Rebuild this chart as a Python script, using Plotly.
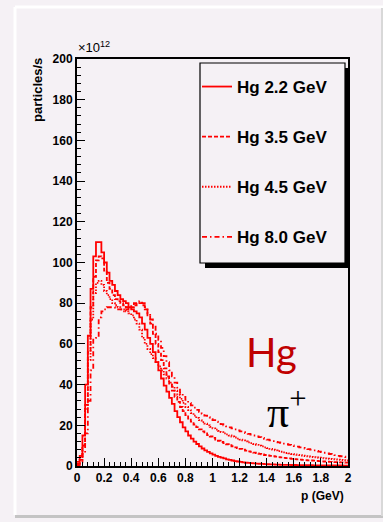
import plotly.graph_objects as go

# ---------------- data (bin width 0.02 GeV, 0..2 GeV) ----------------
bin_width = 0.02
n_bins = 100
p_edges = [round(i * bin_width, 2) for i in range(n_bins + 1)]

hg_22 = [2, 5, 15, 40, 64, 87, 103, 110, 110, 105,
         100, 95, 91, 89, 86, 84, 82, 81, 80, 78,
         77, 76, 75, 73, 70, 67, 63, 60, 56, 51,
         47, 43, 39.5, 36.5, 33.5, 30.5, 27, 24, 21.5, 19,
         17, 15, 13.5, 12, 10.8, 9.6, 8.6, 7.7, 6.9, 6.2,
         5.6, 5.0, 4.5, 4.1, 3.7, 3.3, 3.0, 2.7, 2.4, 2.2,
         2.0, 1.8, 1.6, 1.5, 1.4, 1.3, 1.2, 1.1, 1.0, 0.9,
         0.85, 0.8, 0.75, 0.7, 0.65, 0.6, 0.58, 0.55, 0.52, 0.5,
         0.48, 0.46, 0.44, 0.42, 0.4, 0.38, 0.36, 0.35, 0.34, 0.32,
         0.31, 0.3, 0.29, 0.28, 0.27, 0.26, 0.25, 0.24, 0.23, 0.22]

hg_35 = [1, 3, 10, 30, 56, 78, 93, 101, 103, 102,
         96, 90, 87, 84, 82, 81, 80, 79, 78, 78,
         78, 79, 80, 80, 79, 77, 74, 70, 65, 60,
         56, 52, 48, 44, 40, 37, 34, 31.5, 29, 27,
         25, 23.3, 21.8, 20.4, 19.1, 18, 17, 16, 15.2, 14.5,
         13.8, 13, 12.4, 11.8, 11.2, 10.7, 10.2, 9.7, 9.2, 8.8,
         8.4, 8.0, 7.6, 7.2, 6.9, 6.6, 6.3, 6.0, 5.7, 5.4,
         5.2, 5.0, 4.8, 4.6, 4.4, 4.2, 4.0, 3.85, 3.7, 3.55,
         3.4, 3.25, 3.1, 3.0, 2.9, 2.8, 2.7, 2.6, 2.5, 2.4,
         2.3, 2.2, 2.1, 2.0, 1.95, 1.9, 1.85, 1.8, 1.75, 1.7]

hg_45 = [1, 3, 10, 28, 52, 72, 85, 90, 91, 89,
         86, 84, 82, 80, 79, 78, 77, 77, 76, 75,
         74, 72, 70, 67, 63, 60, 57.5, 55, 53, 51,
         49, 47, 45, 43, 41, 39, 37, 35, 33, 31,
         29, 27.5, 26, 24.8, 23.6, 22.5, 21.6, 20.8, 20, 19.2,
         18.5, 17.9, 17.3, 16.6, 16, 15.5, 15, 14.5, 14, 13.5,
         13, 12.6, 12.1, 11.6, 11.2, 10.8, 10.4, 10, 9.6, 9.2,
         8.8, 8.4, 8.0, 7.7, 7.3, 7.0, 6.7, 6.4, 6.2, 5.9,
         5.7, 5.5, 5.3, 5.1, 4.9, 4.7, 4.5, 4.35, 4.2, 4.05,
         3.9, 3.75, 3.6, 3.5, 3.4, 3.3, 3.15, 3.0, 2.85, 2.7]

hg_80 = [0.5, 2, 6, 16, 32, 47, 63, 64, 73, 76,
         77, 78, 78, 78, 77, 77, 77, 76, 77, 78,
         79, 80, 80, 81, 80, 78, 75, 72, 69, 65,
         62, 58, 54, 51, 47, 44, 41, 38.5, 36, 34,
         32.5, 31, 29.8, 28.7, 27.6, 26.6, 25.7, 24.8, 24, 23.2,
         22.5, 21.8, 21.2, 20.6, 20, 19.5, 19, 18.5, 18, 17.5,
         17, 16.6, 16.2, 15.8, 15.4, 15, 14.6, 14.2, 13.8, 13.4,
         13, 12.6, 12.2, 11.9, 11.6, 11.3, 11, 10.7, 10.4, 10.1,
         9.8, 9.5, 9.2, 8.9, 8.6, 8.3, 8.0, 7.7, 7.4, 7.1,
         6.8, 6.5, 6.2, 5.9, 5.6, 5.3, 5.0, 4.8, 4.6, 4.4]

series_names = ["Hg 2.2 GeV", "Hg 3.5 GeV", "Hg 4.5 GeV", "Hg 8.0 GeV"]
series_values = [hg_22, hg_35, hg_45, hg_80]
series_dash = ["solid", "4px,2px", "1.5px,1.5px", "5px,3px,1.5px,3px"]

x_ticks = [0, 0.2, 0.4, 0.6, 0.8, 1, 1.2, 1.4, 1.6, 1.8, 2]
x_tick_text = ["0", "0.2", "0.4", "0.6", "0.8", "1", "1.2", "1.4", "1.6", "1.8", "2"]
y_ticks = [0, 20, 40, 60, 80, 100, 120, 140, 160, 180, 200]

# ---------------- layout geometry (pixels) ----------------
W, H = 383, 522
L, R, T, B = 77, 348, 59, 466
BG = "#f5f1f5"
RED = "#ff0000"


def xp(px):
    return (px - L) / (R - L)


def yp(py):
    return (B - py) / (B - T)


fig = go.Figure()
for i, (name, vals, dash) in enumerate(zip(series_names, series_values, series_dash)):
    fig.add_trace(go.Scatter(
        x=p_edges, y=list(vals) + [vals[-1]],
        mode="lines", line=dict(color=RED, width=1.8, dash=dash, shape="hv"),
        name=name, legendgroup=f"g{i}", hoverinfo="skip"))

font_b = dict(family="Liberation Sans, Arial, sans-serif", size=12, color="black", weight="bold")

shapes = [
    # slide decorations
    dict(type="line", xref="paper", yref="paper", x0=xp(15), x1=xp(15), y0=yp(7), y1=yp(515),
         line=dict(color="white", width=3)),
    dict(type="line", xref="paper", yref="paper", x0=xp(15), x1=xp(383), y0=yp(7), y1=yp(7),
         line=dict(color="white", width=3)),
    dict(type="line", xref="paper", yref="paper", x0=xp(15), x1=xp(383), y0=yp(516.5), y1=yp(516.5),
         line=dict(color="#c4c4c4", width=3)),
    dict(type="line", xref="paper", yref="paper", x0=xp(382), x1=xp(382), y0=yp(8), y1=yp(516),
         line=dict(color="#d8d8d8", width=2)),
    # legend shadow and box
    dict(type="rect", xref="paper", yref="paper", x0=xp(205), x1=xp(350), y0=yp(268), y1=yp(68),
         fillcolor="black", line=dict(width=0)),
    dict(type="rect", xref="paper", yref="paper", x0=xp(200), x1=xp(345), y0=yp(263), y1=yp(63),
         fillcolor=BG, line=dict(color="black", width=1.2)),
]

annotations = [
    dict(text="×10<sup>12</sup>", xref="paper", yref="paper", x=xp(76), y=yp(57),
         xanchor="left", yanchor="bottom", showarrow=False,
         font=dict(family="Liberation Sans, Arial, sans-serif", size=13, color="black")),
    dict(text="particles/s", xref="paper", yref="paper", x=xp(37), y=yp(90),
         xanchor="center", yanchor="middle", textangle=-90, showarrow=False,
         font=dict(family="Liberation Sans, Arial, sans-serif", size=13, color="black", weight="bold")),
    dict(text="p (GeV)", xref="paper", yref="paper", x=xp(346), y=yp(496),
         xanchor="right", yanchor="middle", showarrow=False,
         font=dict(family="Liberation Sans, Arial, sans-serif", size=12, color="black", weight="bold")),
    dict(text="Hg", xref="paper", yref="paper", x=xp(271), y=yp(352),
         xanchor="center", yanchor="middle", showarrow=False,
         font=dict(family="Lato, Open Sans, sans-serif", size=40, color="#c00000")),
    dict(text="π<sup>+</sup>", xref="paper", yref="paper", x=xp(287), y=yp(409),
         xanchor="center", yanchor="middle", showarrow=False,
         font=dict(family="Liberation Serif, Times New Roman, serif", size=44, color="black")),
]

fig.update_layout(
    width=W, height=H,
    margin=dict(l=L, r=W - R, t=T, b=H - B, pad=0),
    paper_bgcolor=BG, plot_bgcolor=BG,
    showlegend=True,
    legend=dict(x=xp(197), y=yp(69), xanchor="left", yanchor="top",
                bgcolor="rgba(0,0,0,0)", borderwidth=0,
                font=dict(family="Liberation Sans, Arial, sans-serif", size=17, color="black", weight="bold"),
                tracegroupgap=25, itemwidth=30),
    shapes=shapes, annotations=annotations,
    xaxis=dict(range=[0, 2], tickvals=x_ticks, ticktext=x_tick_text,
               ticks="inside", ticklen=8, tickwidth=1.2, tickcolor="black",
               minor=dict(dtick=0.04, ticks="inside", ticklen=4, tickwidth=1, tickcolor="black"),
               showgrid=False, zeroline=False, showline=True, linecolor="black", linewidth=2,
               mirror=True, tickfont=font_b),
    yaxis=dict(range=[0, 200], tickvals=y_ticks,
               ticks="inside", ticklen=8, tickwidth=1.2, tickcolor="black",
               minor=dict(dtick=4, ticks="inside", ticklen=4, tickwidth=1, tickcolor="black"),
               showgrid=False, zeroline=False, showline=True, linecolor="black", linewidth=2,
               mirror=True, tickfont=font_b),
)

fig.write_html("out.html")
